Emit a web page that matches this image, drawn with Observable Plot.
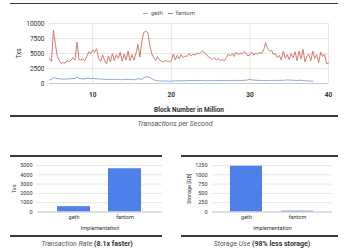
<!DOCTYPE html>
<html><head><meta charset="utf-8">
<script src="https://cdn.jsdelivr.net/npm/d3@7"></script>
<script src="https://cdn.jsdelivr.net/npm/@observablehq/plot@0.6"></script>
<style>
body{margin:0;width:350px;height:250px;overflow:hidden;background:#fff;font-family:Roboto,"Liberation Sans",sans-serif;position:relative}
.rule{position:absolute;height:1.5px;background:#3a3a3a}
.cap{position:absolute;font-size:7px;line-height:9px;color:#555;text-align:center;white-space:nowrap}
.leg{position:absolute;top:9px;left:0;width:338px;text-align:center;font-size:6px;line-height:8px;color:#555}
.sw{display:inline-block;width:5px;height:1.3px;vertical-align:middle;margin-right:3px}
</style></head><body>
<script>
const blockStart = 4.5, blockStep = 0.25;
const fantom = [
  4200, 3700,
  8900, 6500, 4500, 3800,
  3300, 3500, 3400, 3800,
  3600, 3900, 4300, 3900,
  6900, 4000, 3900, 4100,
  3800, 4500, 5300, 5000,
  5600, 5200, 5800, 4200,
  3700, 4800, 3900, 3300,
  4600, 3600, 5000, 3800,
  4800, 4200, 5200, 3700,
  4900, 3900, 5400, 3800,
  4800, 3900, 5000, 6500,
  4400, 7000, 8500, 8700,
  8500, 6500, 5000, 4300,
  3800, 4500, 3900, 3700,
  3600, 3800, 3700, 3600,
  3800, 4900, 3900, 4700,
  4100, 4800, 4300, 4600,
  4500, 5000, 4600, 4900,
  4700, 5100, 4900, 5200,
  5500, 5000, 4800, 4400,
  4200, 4000, 4300, 3900,
  4200, 3800, 4000, 3800,
  4300, 4900, 4600, 5000,
  4500, 5200, 4800, 5100,
  4900, 5300, 5100, 4600,
  4800, 5200, 4700, 5100,
  4900, 5200, 5000, 5600,
  6800, 5800, 5400, 5500,
  4800, 5000, 4300, 4700,
  3900, 5400, 4200, 4800,
  4000, 5000, 4300, 5300,
  3800, 5400, 4100, 5700,
  3600, 4500, 4900, 3800,
  5400, 4200, 4800, 3500,
  5200, 4500, 4900, 3300,
  3400
];
const geth = [
  600, 700,
  1000, 900, 800, 850,
  700, 750, 700, 800,
  750, 800, 850, 800,
  1100, 850, 800, 750,
  800, 850, 900, 800,
  850, 800, 750, 800,
  700, 750, 700, 650,
  700, 650, 700, 650,
  700, 650, 700, 600,
  700, 650, 700, 650,
  650, 600, 700, 800,
  750, 700, 950, 1100,
  1100, 1000, 800, 650,
  500, 450, 450, 400,
  400, 420, 400, 380,
  400, 420, 450, 430,
  460, 450, 470, 450,
  480, 470, 500, 480,
  490, 500, 520, 490,
  470, 460, 450, 470,
  460, 480, 470, 490,
  480, 500, 490, 510,
  500, 490, 510, 500,
  520, 510, 500, 520,
  510, 530, 550, 600,
  700, 600, 560, 540,
  520, 510, 500, 490,
  480, 500, 520, 510,
  530, 500, 520, 510,
  540, 520, 560, 600,
  580, 560, 540, 520,
  500, 560, 520, 470,
  430, 480, 420, 380,
  400
];
const seriesNames = ["geth", "fantom"];
const seriesColors = ["#8aa7dc", "#d27a6f"];
const blockTicks = [10, 20, 30, 40];
const txTicks = [0, 2500, 5000, 7500, 10000];
const implementations = ["geth", "fantom"];
const txRate = [575, 4650];
const storage = [1230, 22];
const rateTicks = [0, 1000, 2000, 3000, 4000, 5000];
const storageTicks = [0, 250, 500, 750, 1000, 1250];

const lineData = [];
geth.forEach((v, i) => lineData.push({block: blockStart + i * blockStep, txs: v, impl: "geth"}));
fantom.forEach((v, i) => lineData.push({block: blockStart + i * blockStep, txs: v, impl: "fantom"}));

function place(el, left, top) {
  el.style.position = "absolute";
  el.style.left = left + "px";
  el.style.top = top + "px";
  document.body.appendChild(el);
}
function div(cls, html, css) {
  const d = document.createElement("div");
  d.className = cls;
  d.innerHTML = html;
  Object.assign(d.style, css);
  document.body.appendChild(d);
  return d;
}

const grid = "#e6e6e6";
const font = "Roboto, 'Liberation Sans', sans-serif";
const plain = d3.format("d");

const topChart = Plot.plot({
  width: 350, height: 116,
  marginTop: 23, marginBottom: 33, marginLeft: 49, marginRight: 22,
  style: {fontSize: "6.5px", fontFamily: font, color: "#444", background: "transparent", overflow: "visible"},
  x: {domain: [4.5, 40]},
  y: {domain: [0, 10000]},
  color: {domain: seriesNames, range: seriesColors},
  marks: [
    Plot.gridX(blockTicks, {stroke: grid, strokeOpacity: 1}),
    Plot.gridY(txTicks, {stroke: grid, strokeOpacity: 1}),
    Plot.ruleY([0], {stroke: "#ccc"}),
    Plot.line(lineData, {x: "block", y: "txs", z: "impl", stroke: "impl", strokeWidth: 1}),
    Plot.axisX({ticks: blockTicks, tickFormat: plain, tickSize: 0, tickPadding: 9, label: "Block Number in Million", labelAnchor: "center", labelArrow: "none", labelOffset: 28, fontWeight: "bold", fill: "#333"}),
    Plot.axisY({ticks: txTicks, tickFormat: plain, tickSize: 0, tickPadding: 5, label: "Txs", labelAnchor: "center", labelArrow: "none", labelOffset: 33, fill: "#333"})
  ]
});
place(topChart, 0, 0);

function barChart(values, ticks, yLabel, padInner, padOuter, mL, mR) {
  const data = implementations.map((k, i) => ({impl: k, v: values[i]}));
  return Plot.plot({
    width: 175, height: 84,
    marginTop: 15, marginBottom: 22.5, marginLeft: mL, marginRight: mR,
    style: {fontSize: "5.5px", fontFamily: font, color: "#444", background: "transparent", overflow: "visible"},
    x: {domain: implementations, paddingInner: padInner, paddingOuter: padOuter},
    y: {domain: [0, ticks[ticks.length - 1]]},
    marks: [
      Plot.gridY(ticks, {stroke: grid, strokeOpacity: 1}),
      Plot.barY(data, {x: "impl", y: "v", fill: "#4f7fe8"}),
      Plot.ruleY([0], {stroke: "#ccc"}),
      Plot.axisX({tickSize: 0, tickPadding: 3, label: "Implementation", labelAnchor: "center", labelArrow: "none", labelOffset: 17.5, fill: "#333"}),
      Plot.axisY({ticks: ticks, tickFormat: plain, tickSize: 0, tickPadding: 5, label: yLabel, labelAnchor: "center", labelArrow: "none", labelOffset: mL - 12, fill: "#333"})
    ]
  });
}
place(barChart(txRate, rateTicks, "Txs", 0.35, 0.39, 37, 13), 0, 150);
place(barChart(storage, storageTicks, "Storage [GB]", 0.365, 0.34, 37, 18), 175, 150);

// rules
div("rule", "", {left: "10px", width: "328px", top: "2.5px"});
div("rule", "", {left: "10px", width: "328px", top: "115px"});
div("rule", "", {left: "10px", width: "152px", top: "155px"});
div("rule", "", {left: "10px", width: "152px", top: "235px"});
div("rule", "", {left: "181px", width: "157px", top: "155px"});
div("rule", "", {left: "181px", width: "157px", top: "235px"});

// legend
div("leg", seriesNames.map((n, i) => `<span class="sw" style="background:${seriesColors[i]}"></span>${n}`).join('<span style="display:inline-block;width:5px"></span>'), {});

// captions
div("cap", "<i>Transactions per Second</i>", {left: "0px", width: "350px", top: "120px"});
div("cap", "<i>Transaction Rate</i> <b style=\"color:#333\">(8.1x faster)</b>", {left: "0px", width: "174px", top: "239.5px"});
div("cap", "<i>Storage Use</i> <b style=\"color:#333\">(98% less storage)</b>", {left: "175px", width: "174px", top: "239.5px"});
</script>
</body></html>
